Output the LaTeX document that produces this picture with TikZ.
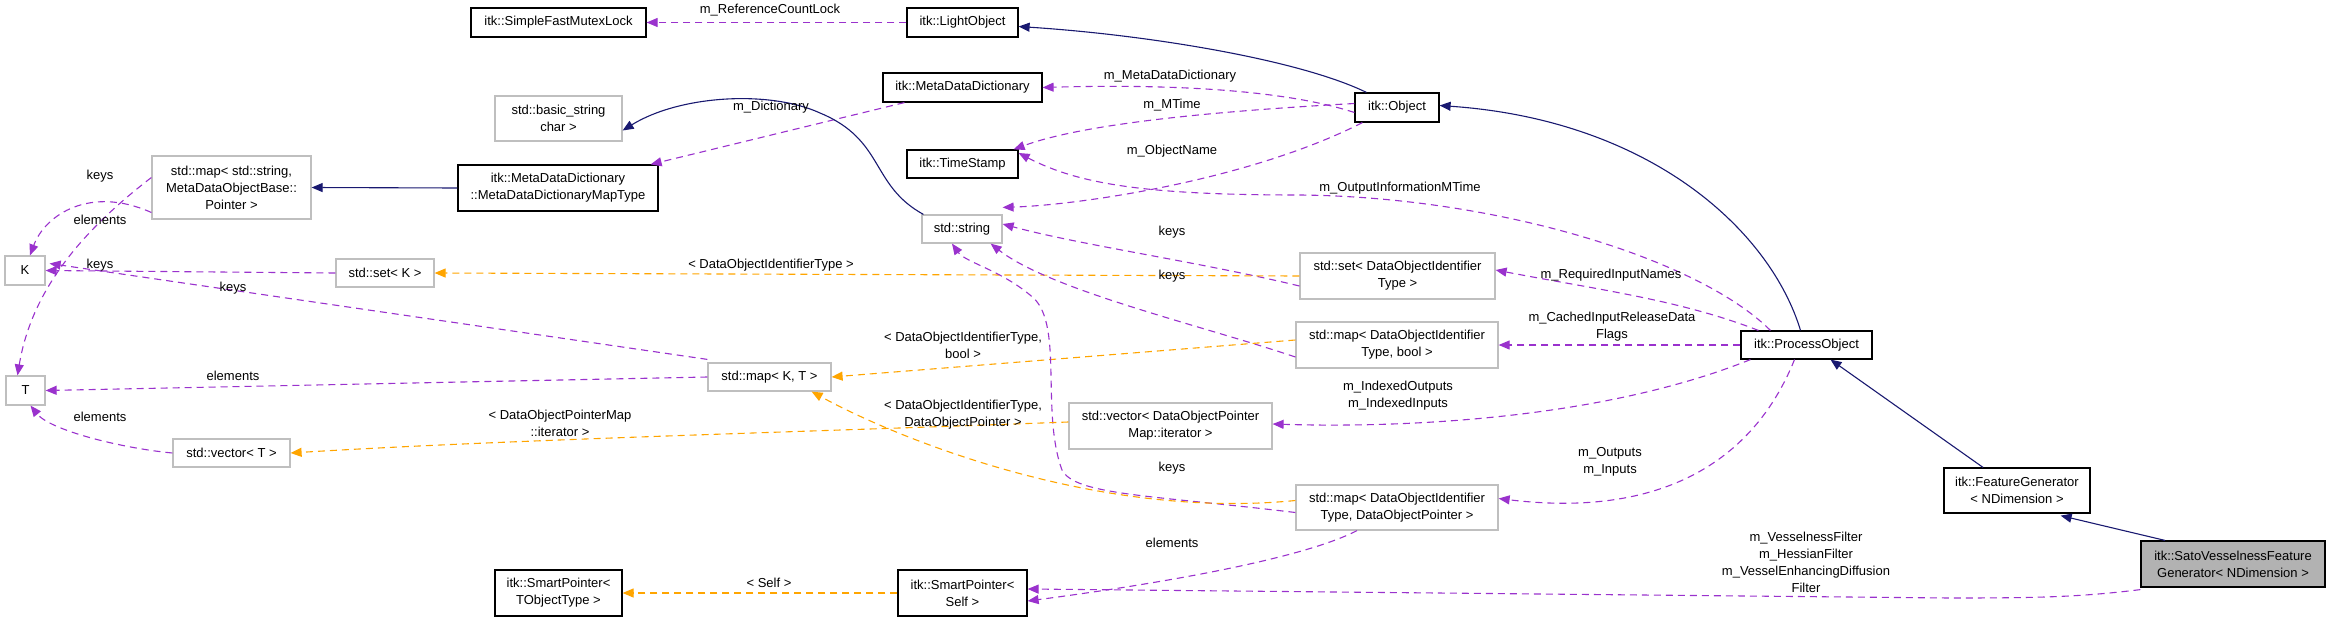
\documentclass[tikz,border=0pt]{standalone}
\usepackage{fontspec}
\setmainfont{Liberation Sans}
\usetikzlibrary{arrows.meta}
\definecolor{purp}{HTML}{9A32CD}
\definecolor{orng}{HTML}{FFA500}
\definecolor{navy}{HTML}{191970}
\newcommand{\mkbox}[8]{% name, x1,y1,x2,y2, style, text
  \pgfmathsetmacro{\cxx}{(#2+#4)/2}\pgfmathsetmacro{\cyy}{(#3+#5)/2}
  \pgfmathsetmacro{\ww}{#4-#2}\pgfmathsetmacro{\hh}{#5-#3}
  \node[#6,minimum width=\ww pt,minimum height=\hh pt] (#1) at (\cxx,\cyy) {#7};}
\begin{document}
\begin{tikzpicture}[x=1pt,y=-1pt,
  font=\fontsize{13}{17}\selectfont,
  cls/.style={draw=black,line width=1.2pt,fill=white,align=center,inner sep=0pt},
  ext/.style={draw=black!25,line width=1.2pt,fill=white,align=center,inner sep=0pt},
  cur/.style={draw=black,line width=1.2pt,fill=black!30,align=center,inner sep=0pt},
  tip/.style={-{Triangle[length=11pt,width=9pt]}},
  use/.style={tip,draw=purp,line width=1.1pt,dash pattern=on 7pt off 5pt},
  tpl/.style={tip,draw=orng,line width=1.1pt,dash pattern=on 7pt off 5pt},
  inh/.style={tip,draw=navy,line width=1.1pt},
  lab/.style={align=center,inner sep=0pt}]
\useasboundingbox (0,0) rectangle (2331,621);
\mkbox{sfml}{471}{8}{646}{37}{cls}{itk::SimpleFastMutexLock}{}
\mkbox{lo}{907}{8}{1018}{37}{cls}{itk::LightObject}{}
\mkbox{mdd}{883}{73}{1042}{102}{cls}{itk::MetaDataDictionary}{}
\mkbox{bs}{495}{96}{622}{141}{ext}{std::basic\_string\\char >}{}
\mkbox{mt}{458}{165}{658}{211}{cls}{itk::MetaDataDictionary\\::MetaDataDictionaryMapType}{}
\mkbox{ts}{907}{150}{1018}{178}{cls}{itk::TimeStamp}{}
\mkbox{str}{922}{215}{1002}{243}{ext}{std::string}{}
\mkbox{obj}{1355}{93}{1439}{122}{cls}{itk::Object}{}
\mkbox{msm}{152}{156}{311}{219}{ext}{std::map< std::string,\\MetaDataObjectBase::\\Pointer >}{}
\mkbox{K}{5}{256}{45}{285}{ext}{K}{}
\mkbox{setK}{336}{259}{434}{287}{ext}{std::set< K >}{}
\mkbox{T}{6}{376}{45}{405}{ext}{T}{}
\mkbox{mKT}{708}{363}{831}{391}{ext}{std::map< K, T >}{}
\mkbox{vT}{173}{439}{290}{467}{ext}{std::vector< T >}{}
\mkbox{spT}{495}{570}{622}{616}{cls}{itk::SmartPointer<\\TObjectType >}{}
\mkbox{setD}{1300}{253}{1495}{299}{ext}{std::set< DataObjectIdentifier\\Type >}{}
\mkbox{mDb}{1296}{322}{1498}{368}{ext}{std::map< DataObjectIdentifier\\Type, bool >}{}
\mkbox{vD}{1069}{403}{1272}{449}{ext}{std::vector< DataObjectPointer\\Map::iterator >}{}
\mkbox{mDD}{1296}{485}{1498}{530}{ext}{std::map< DataObjectIdentifier\\Type, DataObjectPointer >}{}
\mkbox{spS}{898}{570}{1027}{616}{cls}{itk::SmartPointer<\\Self >}{}
\mkbox{po}{1741}{331}{1872}{359}{cls}{itk::ProcessObject}{}
\mkbox{fg}{1944}{468}{2090}{513}{cls}{itk::FeatureGenerator\\< NDimension >}{}
\mkbox{sato}{2141}{541}{2325}{587}{cur}{itk::SatoVesselnessFeature\\Generator< NDimension >}{}
% connectors
\draw[use] (lo.west) -- (sfml.east);
\draw[inh] ([xshift=12pt]obj.north west) .. controls (1300,60) and (1150,35) .. ([yshift=-4pt]lo.east);
\draw[use] ([yshift=-5pt]obj.west) .. controls (1270,85) and (1130,85) .. (mdd.east);
\draw[use] ([yshift=4pt]obj.west) .. controls (1200,112) and (1080,125) .. ([xshift=-5pt]ts.north east);
\draw[use] ([xshift=8pt]obj.south west) .. controls (1250,180) and (1080,205) .. ([yshift=7pt]str.north east);
\draw[use] ([xshift=22pt]mdd.south west) -- ([xshift=-8pt]mt.north east);
\draw[inh] (mt.west) -- (msm.east);
\draw[inh] ([xshift=2pt]str.north west) .. controls (870,185) and (885,140) .. (820,113) .. controls (770,90) and (680,95) .. ([yshift=-12pt]bs.east);
\draw[use] ([yshift=-25pt]msm.west) .. controls (90,185) and (45,215) .. ([xshift=5pt]K.north);
\draw[use] ([yshift=10pt]msm.west) .. controls (70,240) and (30,300) .. ([xshift=-8pt]T.north);
\draw[use] (setK.west) -- (K.east);
\draw[use] ([yshift=3pt]mKT.north west) -- ([xshift=4pt,yshift=7pt]K.east);
\draw[use] (mKT.west) -- (T.east);
\draw[use] (vT.west) .. controls (120,448) and (50,430) .. ([xshift=5pt]T.south);
\draw[use] ([yshift=-10pt]setD.west) .. controls (1200,262) and (1080,245) .. ([yshift=5pt]str.east);
\draw[tpl] (setD.west) -- (setK.east);
\draw[use] ([yshift=-12pt]mDb.west) .. controls (1200,325) and (1050,290) .. ([xshift=-12pt]str.south east);
\draw[tpl] ([yshift=5pt]mDb.west) -- (mKT.east);
\draw[use] ([yshift=-5pt]mDD.west) .. controls (1150,495) and (1075,495) .. (1062,470) .. controls (1040,410) and (1065,320) .. (1030,295) .. controls (1000,270) and (965,262) .. ([xshift=-10pt]str.south);
\draw[tpl] ([yshift=7pt]mDD.west) .. controls (1100,520) and (900,440) .. ([xshift=-20pt]mKT.south east);
\draw[tpl] ([yshift=4pt]vD.west) .. controls (800,432) and (500,440) .. (vT.east);
\draw[use] ([xshift=-40pt]mDD.south) .. controls (1300,560) and (1150,585) .. ([yshift=-8pt]spS.east);
\draw[tpl] (spS.west) -- (spT.east);
\draw[inh] ([xshift=-6pt]po.north) .. controls (1770,230) and (1650,120) .. ([yshift=2pt]obj.east);
\draw[use] ([xshift=30pt]po.north west) .. controls (1700,260) and (1500,197) .. (1300,195) .. controls (1150,195) and (1080,185) .. ([yshift=11pt]ts.east);
\draw[use] ([xshift=18pt]po.north west) .. controls (1680,300) and (1600,290) .. ([yshift=6pt]setD.east);
\draw[use] (po.west) -- (mDb.east);
\draw[use] ([xshift=10pt]po.south west) .. controls (1600,420) and (1400,428) .. ([yshift=2pt]vD.east);
\draw[use] ([xshift=-12pt]po.south) .. controls (1750,470) and (1650,517) .. ([yshift=9pt]mDD.east);
\draw[inh] ([xshift=-34pt]fg.north) -- ([xshift=24pt]po.south);
\draw[inh] ([xshift=-68pt]sato.north) -- ([xshift=-30pt,yshift=-2pt]fg.south east);
\draw[use] ([yshift=-2pt]sato.south west) .. controls (2080,597) and (2040,598) .. (1950,598) -- ([yshift=4pt]spS.east);
% labels
\node[lab] (l1) at (770,10) {m\_ReferenceCountLock};
\node[lab] (l2) at (1170,76) {m\_MetaDataDictionary};
\node[lab] (l3) at (1172,105) {m\_MTime};
\node[lab] (l4) at (1172,151) {m\_ObjectName};
\node[lab] (l5) at (771,107) {m\_Dictionary};
\node[lab] (l6) at (100,176) {keys};
\node[lab] (l7) at (100,220) {elements};
\node[lab] (l8) at (100,265) {keys};
\node[lab] (l9) at (233,288) {keys};
\node[lab] (l10) at (233,376) {elements};
\node[lab] (l11) at (100,417) {elements};
\node[lab] (l12) at (1172,232) {keys};
\node[lab] (l13) at (771,265) {< DataObjectIdentifierType >};
\node[lab] (l14) at (1172,276) {keys};
\node[lab] (l15) at (963,345) {< DataObjectIdentifierType,\\bool >};
\node[lab] (l16) at (963,415) {< DataObjectIdentifierType,\\DataObjectPointer >};
\node[lab] (l17) at (560,423) {< DataObjectPointerMap\\::iterator >};
\node[lab] (l18) at (1172,468) {keys};
\node[lab] (l19) at (1172,543) {elements};
\node[lab] (l20) at (769,583) {< Self >};
\node[lab] (l21) at (1400,188) {m\_OutputInformationMTime};
\node[lab] (l22) at (1611,275) {m\_RequiredInputNames};
\node[lab] (l23) at (1612,327) {m\_CachedInputReleaseData\\Flags};
\node[lab] (l24) at (1398,396) {m\_IndexedOutputs\\m\_IndexedInputs};
\node[lab] (l25) at (1610,462) {m\_Outputs\\m\_Inputs};
\node[lab] (l26) at (1806,562) {m\_VesselnessFilter\\m\_HessianFilter\\m\_VesselEnhancingDiffusion\\Filter};
\end{tikzpicture}
\end{document}
